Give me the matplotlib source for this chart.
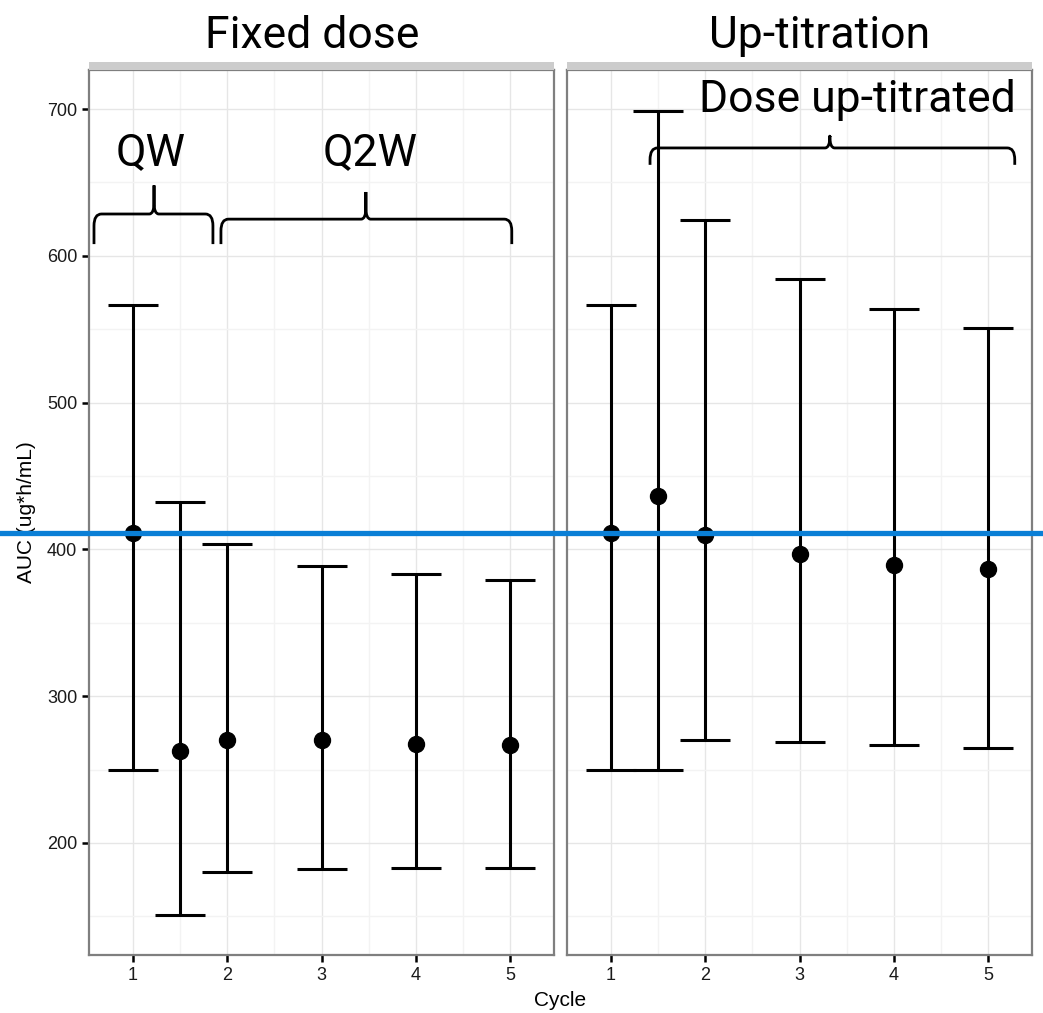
import matplotlib
matplotlib.use("Agg")
import matplotlib.pyplot as plt
from matplotlib.path import Path
from matplotlib.patches import PathPatch, Rectangle
from matplotlib.lines import Line2D
import matplotlib.transforms as mtransforms
from matplotlib.ticker import MultipleLocator

#================================================================================================#
## data
cycle_pos = [1, 1.5, 2, 3, 4, 5]
cycle_ticks = [1, 2, 3, 4, 5]
panel_titles = ["Fixed dose", "Up-titration"]

fixed_median = [411, 263, 270, 270, 267.5, 267]
fixed_upper = [566.5, 432, 404, 389, 383.5, 379]
fixed_lower = [250, 151, 180, 182.5, 183, 183]

uptit_median = [411, 436.5, 410, 397, 389.5, 386.5]
uptit_upper = [566.5, 699, 624.5, 584, 564, 551]
uptit_lower = [250, 250, 270.5, 269, 267, 265]

ref_auc = 411.5

# brace annotations: (panel, label, x0, x1, xtip, y_end, y_bar, y_tip, label_x, label_y)
braces = [
    (0, "QW", 0.586, 1.848, 1.223, 608, 628.5, 648, 1.19, 662),
    (0, "Q2W", 1.933, 5.019, 3.471, 608, 625, 643.5, 3.52, 662),
    (1, "Dose up-titrated", 1.414, 5.284, 3.322, 662, 673.5, 681, 3.61, 698),
]

#================================================================================================#
## plot parameters
big_font = "Roboto"
small_font = "Liberation Sans"
big_size = 32
xlim = (0.533, 5.467)
ylim = (123.7, 726.6)
grid_major = "#e6e6e6"
grid_minor = "#f3f3f3"
border_col = "#7f7f7f"
lw_bar = 2.2


def draw_brace(ax, x0, x1, xt, y_end, y_bar, y_tip, rx=0.08, ry=8, tx=0.05, ty=8):
    verts = [(x0, y_end), (x0, y_bar - ry), (x0, y_bar), (x0 + rx, y_bar),
             (xt - tx, y_bar), (xt, y_bar), (xt, y_bar + ty), (xt, y_tip),
             (xt, y_tip), (xt, y_bar + ty), (xt, y_bar), (xt + tx, y_bar),
             (x1 - rx, y_bar), (x1, y_bar), (x1, y_bar - ry), (x1, y_end)]
    codes = [Path.MOVETO, Path.LINETO, Path.CURVE3, Path.CURVE3,
             Path.LINETO, Path.CURVE3, Path.CURVE3, Path.LINETO,
             Path.MOVETO, Path.LINETO, Path.CURVE3, Path.CURVE3,
             Path.LINETO, Path.CURVE3, Path.CURVE3, Path.LINETO]
    ax.add_patch(PathPatch(Path(verts, codes), facecolor="none", edgecolor="black",
                           lw=2.0, capstyle="butt", joinstyle="round", clip_on=False, zorder=5))


fig = plt.figure(figsize=(10.43, 10.13), dpi=100)
ax_w = 465 / 1043
ax_h = 885 / 1013
ax_b = 1 - 955 / 1013
axes = [fig.add_axes([89 / 1043, ax_b, ax_w, ax_h]),
        fig.add_axes([567 / 1043, ax_b, ax_w, ax_h])]

series = [(fixed_median, fixed_lower, fixed_upper),
          (uptit_median, uptit_lower, uptit_upper)]
title_x = [312 / 1043, 820 / 1043]

for i, ax in enumerate(axes):
    med, lo, up = series[i]
    yerr = [[m - l for m, l in zip(med, lo)], [u - m for m, u in zip(med, up)]]
    ax.errorbar(cycle_pos, med, yerr=yerr, fmt="o", color="black", ms=11.5,
                elinewidth=lw_bar, capsize=18, capthick=lw_bar, zorder=4)
    ax.set_xlim(*xlim)
    ax.set_ylim(*ylim)
    ax.set_xticks(cycle_ticks)
    ax.xaxis.set_minor_locator(MultipleLocator(0.5))
    ax.yaxis.set_major_locator(MultipleLocator(100))
    ax.yaxis.set_minor_locator(MultipleLocator(50))
    ax.grid(which="major", color=grid_major, lw=1.0, zorder=0)
    ax.grid(which="minor", color=grid_minor, lw=1.0, zorder=0)
    ax.set_axisbelow(True)
    for s in ax.spines.values():
        s.set_color(border_col)
        s.set_linewidth(1.6)
    ax.tick_params(which="major", length=5, width=1.8, color="black",
                   labelsize=13, labelcolor="#1a1a1a")
    ax.tick_params(which="minor", length=0)
    for lab in ax.get_xticklabels() + ax.get_yticklabels():
        lab.set_family(small_font)
    if i == 1:
        ax.tick_params(axis="y", which="both", left=False, labelleft=False)

    # facet strip (thin gray band on top of the panel)
    ax.add_patch(Rectangle((0, 1.0), 1, 8 / 885, transform=ax.transAxes, facecolor="#cccccc",
                           edgecolor="none", clip_on=False, zorder=6))
    fig.text(title_x[i], 1 - 48 / 1013, panel_titles[i], family=big_font, fontsize=big_size,
             ha="center", va="baseline")

for p, label, x0, x1, xt, y_end, y_bar, y_tip, lx, ly in braces:
    ax = axes[p]
    draw_brace(ax, x0, x1, xt, y_end, y_bar, y_tip)
    ax.text(lx, ly, label, family=big_font, fontsize=big_size, ha="center", va="baseline",
            zorder=7, clip_on=False)

axes[0].set_ylabel("AUC (ug*h/mL)", family=small_font, fontsize=15, labelpad=8)
fig.text(560 / 1043, 1 - 1000 / 1013, "Cycle", family=small_font, fontsize=15,
         ha="center", va="center")

# reference line across the whole figure
trans = mtransforms.blended_transform_factory(fig.transFigure, axes[0].transData)
fig.add_artist(Line2D([0, 1], [ref_auc, ref_auc], transform=trans, color="#0a7fd6",
                      lw=3.8, zorder=10))

plt.savefig("out.png", dpi=100)
